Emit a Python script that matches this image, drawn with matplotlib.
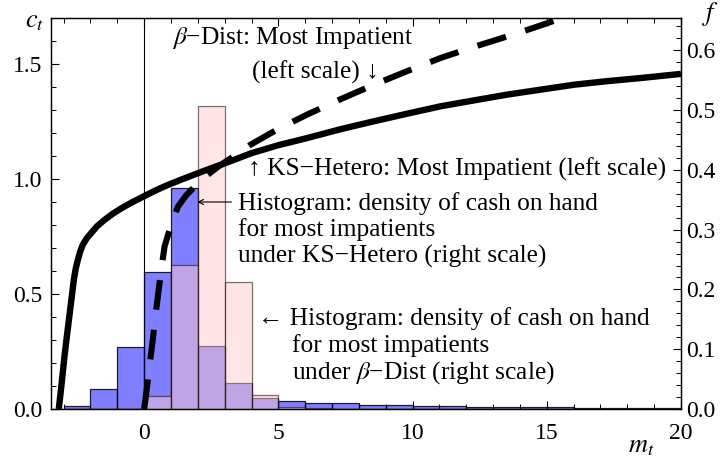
import matplotlib
matplotlib.use("Agg")
import matplotlib.pyplot as plt
from matplotlib.ticker import MultipleLocator, FormatStrFormatter

# ---------------- data ----------------
bin_left = list(range(-3, 20))  # histogram bins of width 1 from -3 to 20
ks_density = [0.005, 0.033, 0.104, 0.229, 0.370, 0.106, 0.043, 0.018, 0.014,
              0.0105, 0.0095, 0.0067, 0.006, 0.005, 0.0045, 0.004, 0.0035,
              0.003, 0.003, 0.0025, 0.0025, 0.002, 0.002]
beta_density = [0.0, 0.0, 0.0, 0.022, 0.241, 0.507, 0.212, 0.023, 0.003,
                0.001, 0, 0, 0, 0, 0, 0, 0, 0, 0, 0, 0, 0, 0]

ks_m = [-3.18, -3.07, -2.97, -2.88, -2.79, -2.70, -2.62, -2.55, -2.47, -2.38,
        -2.29, -2.14, -1.98, -1.75, -1.48, -1.18, -0.86, -0.43, 0.01, 0.44,
        0.88, 1.44, 2.0, 2.5, 3.0, 3.5, 3.99, 5.0, 6.07, 7.3, 8.56, 9.8,
        11.04, 12.3, 13.53, 14.8, 16.02, 17.3, 18.5, 20.0]
ks_c = [0.0, 0.115, 0.227, 0.315, 0.40, 0.485, 0.561, 0.61, 0.648, 0.685,
        0.713, 0.742, 0.764, 0.795, 0.822, 0.848, 0.872, 0.90, 0.926, 0.951,
        0.974, 1.0, 1.025, 1.047, 1.068, 1.09, 1.112, 1.147, 1.178, 1.216,
        1.251, 1.284, 1.316, 1.342, 1.367, 1.389, 1.41, 1.426, 1.439, 1.457]

beta_m = [0.0, 0.07, 0.14, 0.23, 0.32, 0.41, 0.51, 0.63, 0.76, 1.0, 1.26,
          1.56, 1.88, 2.3, 2.75, 3.35, 3.96, 5.0, 6.07, 7.3, 8.56, 9.8,
          11.04, 12.3, 13.53, 14.5, 15.4, 16.0]
beta_c = [0.0, 0.06, 0.126, 0.215, 0.30, 0.395, 0.488, 0.60, 0.706, 0.80,
          0.88, 0.928, 0.967, 1.012, 1.053, 1.10, 1.149, 1.218, 1.28, 1.346,
          1.41, 1.469, 1.526, 1.575, 1.62, 1.657, 1.693, 1.715]

x_major = [0, 5, 10, 15, 20]
left_major = [0.0, 0.5, 1.0, 1.5]
right_major = [0.0, 0.1, 0.2, 0.3, 0.4, 0.5, 0.6]

# ---------------- style ----------------
plt.rcParams['font.family'] = ['Liberation Serif', 'DejaVu Serif']
plt.rcParams['mathtext.fontset'] = 'stix'

W, H = 720, 462
fig = plt.figure(figsize=(W / 100, H / 100), dpi=100)
L, R, T, B = 51, 681, 18, 409
axh = fig.add_axes([L / W, 1 - B / H, (R - L) / W, (B - T) / H])
axc = axh.twinx()

# histograms (right scale)
axh.bar(bin_left, ks_density, width=1, align='edge',
        color=(0, 0, 1, 0.5), edgecolor=(0, 0, 0, 0.85), linewidth=0.9, zorder=2)
axh.bar(bin_left, beta_density, width=1, align='edge',
        color=(1, 0.8, 0.8, 0.5), edgecolor=(0.1, 0, 0, 0.55), linewidth=0.9, zorder=3)
axh.axvline(0, color='black', lw=0.8, zorder=1)
axh.set_xlim(-3.47, 20)
axh.set_ylim(0, 0.654)

# consumption functions (left scale)
axc.plot(ks_m, ks_c, color='black', lw=4.6, solid_capstyle='butt',
         solid_joinstyle='round')
ln, = axc.plot(beta_m, beta_c, color='black', lw=4.4, dash_capstyle='butt')
ln.set_dashes([21.5 / 4.4, 14.5 / 4.4])
axc.set_ylim(0, 1.7)

# axes sides
axh.yaxis.tick_right()
axc.yaxis.tick_left()

fs_tick = 17
for a in (axh, axc):
    for s in a.spines.values():
        s.set_linewidth(0.9)

axh.set_xticks(x_major)
axh.xaxis.set_minor_locator(MultipleLocator(1))
axh.tick_params(axis='x', which='both', direction='in', top=True, bottom=True)
axh.tick_params(axis='x', which='major', length=6, width=0.8, labelsize=fs_tick, pad=10)
axh.tick_params(axis='x', which='minor', length=3.5, width=0.7)

axh.set_yticks(right_major)
axh.yaxis.set_minor_locator(MultipleLocator(0.02))
axh.yaxis.set_major_formatter(FormatStrFormatter('%.1f'))
axh.tick_params(axis='y', which='both', direction='in', right=True, left=False,
                labelright=True, labelleft=False)
axh.tick_params(axis='y', which='major', length=6, width=0.8, labelsize=fs_tick, pad=4)
axh.tick_params(axis='y', which='minor', length=3.5, width=0.7)

axc.set_yticks(left_major)
axc.yaxis.set_minor_locator(MultipleLocator(0.1))
axc.yaxis.set_major_formatter(FormatStrFormatter('%.1f'))
axc.tick_params(axis='y', which='both', direction='in', left=True, right=False,
                labelleft=True, labelright=False)
axc.tick_params(axis='y', which='major', length=6, width=0.8, labelsize=fs_tick, pad=6)
axc.tick_params(axis='y', which='minor', length=3.5, width=0.7)

# ---------------- annotations ----------------
fs = 18.3
axc.text(1.04, 1.587, r'$\beta$−Dist: Most Impatient', fontsize=fs, va='baseline')
axc.text(4.03, 1.435, '(left scale) ↓', fontsize=fs, va='baseline')
axc.text(3.88, 1.017, '↑ KS−Hetero: Most Impatient (left scale)', fontsize=fs, va='baseline')

axc.annotate('', xy=(1.98, 0.90), xytext=(3.25, 0.90),
             arrowprops=dict(arrowstyle='->', lw=0.8, color='black',
                             mutation_scale=9, shrinkA=0, shrinkB=0))
axc.text(3.51, 0.867, 'Histogram: density of cash on hand', fontsize=fs, va='baseline')
axc.text(3.51, 0.752, 'for most impatients', fontsize=fs, va='baseline')
axc.text(3.51, 0.635, 'under KS−Hetero (right scale)', fontsize=fs, va='baseline')

axc.text(4.25, 0.365, '← Histogram: density of cash on hand', fontsize=fs, va='baseline')
axc.text(5.49, 0.249, 'for most impatients', fontsize=fs, va='baseline')
axc.text(5.49, 0.133, r'under $\beta$−Dist (right scale)', fontsize=fs, va='baseline')

# axis labels
fig.text(35 / W, 1 - 22 / H, r'$c_t$', fontsize=19, ha='center', va='center')
fig.text(711 / W, 1 - 14 / H, r'$f$', fontsize=19, ha='center', va='center')
fig.text(641 / W, 1 - 447 / H, r'$m_t$', fontsize=19, ha='center', va='center')

fig.savefig('out.png', dpi=100)
